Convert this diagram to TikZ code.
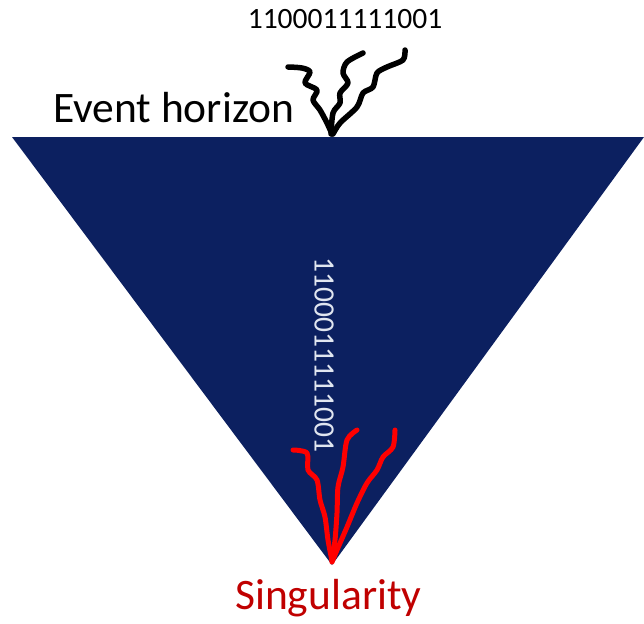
\documentclass[tikz,border=0pt]{standalone}
\usepackage{fontspec}
\setmainfont{Carlito}
\usetikzlibrary{positioning}

\definecolor{holeblue}{RGB}{12,32,96}
\definecolor{singred}{RGB}{192,0,0}
\definecolor{bitwhite}{RGB}{225,230,240}

\begin{document}
\begin{tikzpicture}[x=1pt, y=-1pt, line cap=round, line join=round,
    squig/.style={line width=5.5pt, smooth},
    bits/.style={font=\fontsize{29.5}{29.5}\selectfont, inner sep=0pt},
    label/.style={font=\fontsize{43.5}{43.5}\selectfont, inner sep=0pt}]
    \useasboundingbox (0,0) rectangle (644,623);

    % Trichter
    \coordinate (tl) at (12,137);
    \coordinate (tr) at (644,137);
    \coordinate (apex) at (332,565);
    \fill[holeblue] (tl) -- (tr) -- (apex) -- cycle;

    % Texte
    \node[bits, anchor=base] (bitsout) at (345,29) {1100011111001};
    \node[label, anchor=base west] (horizon) at (53,122) {Event horizon};
    \node[label, anchor=base west, text=singred] (sing) at (235,609) {Singularity};
    \node[bits, rotate=-90, text=bitwhite] (bitsin) at (324,355) {1100011111001};

    % schwarze Linien am Horizont
    \draw[squig] plot coordinates {(288,67) (302,68) (310,72) (305,83) (317,90) (313,100) (320,110) (327,123) (332,134)};
    \draw[squig] plot coordinates {(363,53) (347,62) (343,73) (348,83) (340,93) (340,103) (333,113) (331,134)};
    \draw[squig] plot coordinates {(405,50) (403,60) (387,67) (377,73) (373,87) (363,93) (357,107) (340,123) (333,134)};

    % rote Linien an der Singularitaet
    \draw[squig, red, line width=5pt] plot coordinates {(293,450) (307,453) (308,470) (317,480) (320,500) (325,517) (328,540) (332,561)};
    \draw[squig, red, line width=5pt] plot coordinates {(357,430) (347,440) (343,467) (338,487) (337,513) (335,540) (332,561)};
    \draw[squig, red, line width=5pt] plot coordinates {(395,430) (393,447) (383,457) (377,470) (367,483) (357,503) (347,527) (337,550) (332,562)};
\end{tikzpicture}
\end{document}
